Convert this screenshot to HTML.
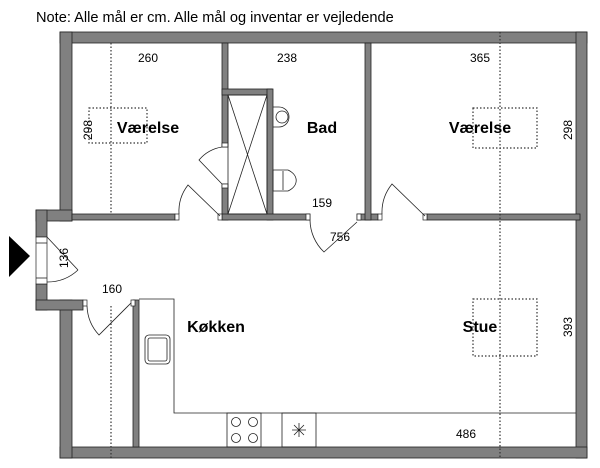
<!DOCTYPE html>
<html><head><meta charset="utf-8"><style>
html,body{margin:0;padding:0;background:#fff;}
svg{display:block;font-family:"Liberation Sans",sans-serif;}
</style></head><body>
<svg width="600" height="468" viewBox="0 0 600 468" xmlns="http://www.w3.org/2000/svg">
<text x="36" y="22" font-size="14.6" fill="#000">Note: Alle mål er cm. Alle mål og inventar er vejledende</text>
<g fill="#808080" stroke="#222" stroke-width="0.8">
<rect x="60" y="32" width="527" height="11"/>
<rect x="60" y="32" width="12" height="189"/>
<rect x="576" y="32" width="11" height="426"/>
<rect x="60" y="447" width="527" height="11"/>
<rect x="60" y="300" width="12" height="158"/>
<rect x="36" y="210" width="36" height="11"/>
<rect x="36" y="210" width="11" height="27"/>
<rect x="36" y="284" width="11" height="26"/>
<rect x="36" y="300" width="47" height="10"/>
<rect x="72" y="214" width="103" height="6"/>
<rect x="222" y="43" width="6" height="104"/>
<rect x="222" y="184" width="6" height="36"/>
<rect x="222" y="89" width="50" height="6"/>
<rect x="267" y="89" width="6" height="131"/>
<rect x="222" y="214" width="88" height="6"/>
<rect x="357" y="214" width="21" height="6"/>
<rect x="365" y="43" width="6" height="177"/>
<rect x="427" y="214" width="153" height="6"/>
<rect x="133" y="300" width="6" height="147"/>
</g>
<g fill="#fff" stroke="#222" stroke-width="0.7">
<rect x="36" y="237" width="11" height="47"/>
<rect x="175" y="214" width="4" height="6"/>
<rect x="218" y="214" width="4" height="6"/>
<rect x="222" y="143" width="6" height="4"/>
<rect x="222" y="184" width="6" height="4"/>
<rect x="306" y="214" width="4" height="6"/>
<rect x="357" y="214" width="4" height="6"/>
<rect x="378" y="214" width="4" height="6"/>
<rect x="423" y="214" width="4" height="6"/>
<rect x="83" y="300" width="4" height="6"/>
<rect x="131" y="300" width="4" height="6"/>
</g>
<g fill="none" stroke="#222" stroke-width="0.8">
<line x1="36" y1="243" x2="47" y2="243"/><line x1="36" y1="278" x2="47" y2="278"/>
<rect x="228" y="95" width="39" height="119"/>
<line x1="228" y1="95" x2="267" y2="214"/><line x1="267" y1="95" x2="228" y2="214"/>
<path d="M47,237 L78,270"/><path d="M78,270 A45,45 0 0 1 47,282"/>
<path d="M179,214 A43,43 0 0 1 188,185 L220,216"/>
<path d="M222,147 A38,38 0 0 0 199,160 L222,184"/>
<path d="M310,220 A45,45 0 0 0 324,252 L357,222"/>
<path d="M382,214 A45,45 0 0 1 392,184 L425,216"/>
<path d="M87,306 A45,45 0 0 0 99,335 L131,303"/>
<path d="M139,299 L174,299 L174,413 L576,413"/>
<rect x="145" y="335" width="25" height="29" rx="4"/>
<rect x="148" y="338" width="19" height="23" rx="2"/>
<rect x="227" y="413" width="34" height="34"/>
<circle cx="236" cy="422" r="4.5"/><circle cx="253" cy="422" r="4.5"/>
<circle cx="236" cy="438" r="4.5"/><circle cx="253" cy="438" r="4.5"/>
<rect x="282" y="413" width="34" height="34"/>
<path d="M292,430 L306,430 M299,423 L299,437 M294,425 L304,435 M304,425 L294,435"/>
<path d="M273,107 L279,107 A10,10 0 0 1 279,127 L273,127"/>
<circle cx="282" cy="117" r="6"/>
<path d="M273,170 L288,170 A20,13 0 0 1 288,191 L273,191 Z"/>
<line x1="283" y1="171" x2="283" y2="190"/>
</g>
<g fill="none" stroke="#333" stroke-width="1.2" stroke-dasharray="1.5,2">
<line x1="111" y1="43" x2="111" y2="214"/>
<line x1="111" y1="306" x2="111" y2="458"/>
<line x1="500" y1="32" x2="500" y2="458"/>
<rect x="89" y="108" width="58" height="35"/>
<rect x="473" y="108" width="64" height="40"/>
<rect x="473" y="299" width="64" height="57"/>
</g>
<polygon points="9,236 30,256 9,277" fill="#000"/>
<g font-size="12" fill="#000" text-anchor="middle">
<text x="148" y="62">260</text>
<text x="287" y="62">238</text>
<text x="480" y="62">365</text>
<text x="322" y="207">159</text>
<text x="340" y="241">756</text>
<text x="112" y="293">160</text>
<text x="466" y="438">486</text>
<text transform="translate(92,130) rotate(-90)">298</text>
<text transform="translate(572,130) rotate(-90)">298</text>
<text transform="translate(68,258) rotate(-90)">136</text>
<text transform="translate(572,327) rotate(-90)">393</text>
</g>
<g font-size="16" font-weight="bold" fill="#000" text-anchor="middle">
<text x="148" y="133">Værelse</text>
<text x="322" y="133">Bad</text>
<text x="480" y="133">Værelse</text>
<text x="216" y="332">Køkken</text>
<text x="480" y="332">Stue</text>
</g>
</svg>
</body></html>
